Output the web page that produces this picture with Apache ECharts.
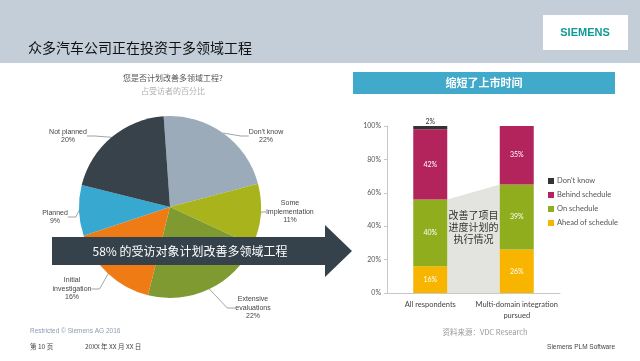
<!DOCTYPE html>
<html>
<head>
<meta charset="utf-8">
<script src="https://cdn.jsdelivr.net/npm/echarts@6/dist/echarts.min.js"></script>
<style>html,body{margin:0;padding:0;background:#fff}#c{width:640px;height:361px}</style>
</head>
<body>
<div id="c"></div>
<script>
// ---- data ----
const pieNames = ["Don't know", 'Some\nimplementation', 'Extensive\nevaluations', 'Initial\ninvestigation', 'Planned', 'Not planned'];
const pieValues = [22, 11, 22, 16, 9, 20];
const barCategories = ['All respondents', 'Multi-domain integration\npursued'];
const seriesNames = ["Don't know", 'Behind schedule', 'On schedule', 'Ahead of schedule'];
const aheadValues = [16, 26];
const onValues = [40, 39];
const behindValues = [42, 35];
const dontKnowValues = [2, 0];
const yTickMin = 0, yTickMax = 100, yTickStep = 20;

// ---- styling / layout ----
const pieColors = ['#9babb9', '#a9b41c', '#7f9a30', '#ef7b14', '#37a9d0', '#38424a'];
const pieLabelPos = [[266, 136], [290, 212], [253, 308], [72, 289], [55, 217], [68, 136]];
const barColors = { dk: '#333333', behind: '#b3245c', on: '#8fad1d', ahead: '#f7b500' };
const FONT = 'Liberation Sans, Arial, sans-serif';
const CJK = 'Noto Sans CJK SC, sans-serif';
const BARW = 34;

const chart = echarts.init(document.getElementById('c'), null, { renderer: 'canvas' });

const pct = v => v > 0 ? v + '%' : '';
const barLabel = { show: true, position: 'inside', color: '#fff', fontSize: 7, fontFamily: 'Lato, sans-serif', formatter: p => pct(p.value) };

const option = {
  animation: false,
  backgroundColor: '#ffffff',
  grid: { left: 387, right: 80, top: 126, bottom: 68 },
  legend: {
    orient: 'vertical', left: 543, top: 172, itemWidth: 6, itemHeight: 6, itemGap: 6,
    icon: 'rect', data: seriesNames,
    textStyle: { fontSize: 7.5, color: '#555', fontFamily: 'Lato, sans-serif', padding: [0, 0, 0, -2] }
  },
  xAxis: {
    type: 'category', data: barCategories,
    axisLine: { lineStyle: { color: '#c8c8c8' } },
    axisTick: { show: false },
    axisLabel: { interval: 0, fontSize: 7.5, color: '#444', fontFamily: 'Lato, sans-serif', lineHeight: 11, margin: 6 }
  },
  yAxis: {
    type: 'value', min: yTickMin, max: yTickMax, interval: yTickStep,
    axisLine: { show: true, lineStyle: { color: '#c8c8c8' } },
    axisTick: { show: true, length: 3, lineStyle: { color: '#c8c8c8' } },
    splitLine: { show: false },
    axisLabel: { fontSize: 7, color: '#555', fontFamily: 'Lato, sans-serif', formatter: '{value}%', margin: 6 }
  },
  series: [
    {
      type: 'custom', z: 1, silent: true,
      data: [[0, aheadValues[0] + onValues[0], 1, aheadValues[1] + onValues[1]]],
      renderItem: (params, api) => {
        const p0 = api.coord([0, api.value(1)]);
        const p1 = api.coord([1, api.value(3)]);
        const b0 = api.coord([0, 0]);
        const b1 = api.coord([1, 0]);
        const h = BARW / 2;
        const cx = (p0[0] + p1[0]) / 2;
        return {
          type: 'group',
          children: [
            { type: 'polygon', shape: { points: [[p0[0] + h, p0[1]], [p1[0] - h, p1[1]], [b1[0] - h, b1[1]], [b0[0] + h, b0[1]]] }, style: { fill: '#e3e3df' } },
            { type: 'text', x: cx, y: 227, style: { text: '改善了项目\n进度计划的\n执行情况', fill: '#333', font: '10px ' + CJK, textAlign: 'center', textVerticalAlign: 'middle', lineHeight: 12 } }
          ]
        };
      }
    },
    { name: 'Ahead of schedule', type: 'bar', stack: 's', barWidth: BARW, data: aheadValues, itemStyle: { color: barColors.ahead }, label: barLabel, z: 3 },
    { name: 'On schedule', type: 'bar', stack: 's', barWidth: BARW, data: onValues, itemStyle: { color: barColors.on }, label: barLabel, z: 3 },
    { name: 'Behind schedule', type: 'bar', stack: 's', barWidth: BARW, data: behindValues, itemStyle: { color: barColors.behind }, label: barLabel, z: 3 },
    { name: "Don't know", type: 'bar', stack: 's', barWidth: BARW, data: dontKnowValues, itemStyle: { color: barColors.dk }, z: 3,
      label: { show: true, position: 'top', color: '#333', fontSize: 7, fontFamily: 'Lato, sans-serif', distance: 1, formatter: p => pct(p.value) } },
    {
      type: 'pie', center: [170, 207], radius: 91, startAngle: 94, clockwise: true,
      data: pieNames.map((n, i) => ({ name: n, value: pieValues[i], itemStyle: { color: pieColors[i] } })),
      label: { show: true, color: '#444', fontSize: 7, fontFamily: FONT, lineHeight: 8.5, align: 'center', formatter: p => p.name + '\n' + p.value + '%' },
      labelLine: { show: true, length: 8, length2: 8, lineStyle: { color: '#666', width: 0.6 } },
      labelLayout: p => ({ x: pieLabelPos[p.dataIndex][0], y: pieLabelPos[p.dataIndex][1], align: 'center', verticalAlign: 'middle' }),
      emphasis: { disabled: true }, z: 2
    }
  ],
  graphic: [
    { type: 'rect', shape: { x: 0, y: 0, width: 640, height: 63 }, style: { fill: '#c3ced8' }, z: 0 },
    { type: 'text', x: 28, y: 48, style: { text: '众多汽车公司正在投资于多领域工程', fill: '#111', font: '14px ' + CJK, textVerticalAlign: 'middle' } },
    { type: 'rect', shape: { x: 543, y: 15, width: 85, height: 35 }, style: { fill: '#ffffff' } },
    { type: 'text', x: 585, y: 33, style: { text: 'SIEMENS', fill: '#139a94', font: 'bold 11px ' + FONT, textAlign: 'center', textVerticalAlign: 'middle' } },
    { type: 'text', x: 173, y: 78, style: { text: '您是否计划改善多领域工程?', fill: '#555', font: '8px ' + CJK, textAlign: 'center', textVerticalAlign: 'middle' } },
    { type: 'text', x: 173, y: 91, style: { text: '占受访者的百分比', fill: '#b0b0b0', font: '8px ' + CJK, textAlign: 'center', textVerticalAlign: 'middle' } },
    { type: 'polygon', z: 100, shape: { points: [[52, 237], [325, 237], [325, 225], [352, 251], [325, 277], [325, 265], [52, 265]] }, style: { fill: '#36424b' } },
    { type: 'text', z: 101, x: 190, y: 251, style: { text: '58% 的受访对象计划改善多领域工程', fill: '#fff', font: '12px ' + CJK, textAlign: 'center', textVerticalAlign: 'middle' } },
    { type: 'rect', shape: { x: 353, y: 72, width: 262, height: 22 }, style: { fill: '#41a9ca' } },
    { type: 'text', x: 484, y: 83, style: { text: '缩短了上市时间', fill: '#fff', font: 'bold 11px ' + CJK, textAlign: 'center', textVerticalAlign: 'middle' } },
    { type: 'text', x: 485, y: 332, style: { text: '资料来源：VDC Research', fill: '#9a9a9a', font: '7.5px ' + CJK, textAlign: 'center', textVerticalAlign: 'middle' } },
    { type: 'text', x: 30, y: 331, style: { text: 'Restricted © Siemens AG 2016', fill: '#8c9cb0', font: '6.5px ' + FONT, textVerticalAlign: 'middle' } },
    { type: 'text', x: 30, y: 347, style: { text: '第 10 页', fill: '#444', font: '6.5px ' + CJK, textVerticalAlign: 'middle' } },
    { type: 'text', x: 85, y: 347, style: { text: '20XX 年 XX 月 XX 日', fill: '#444', font: '6.5px ' + CJK, textVerticalAlign: 'middle' } },
    { type: 'text', x: 615, y: 347, style: { text: 'Siemens PLM Software', fill: '#444', font: '6.5px ' + FONT, textAlign: 'right', textVerticalAlign: 'middle' } }
  ]
};
chart.setOption(option);
</script>
</body>
</html>
